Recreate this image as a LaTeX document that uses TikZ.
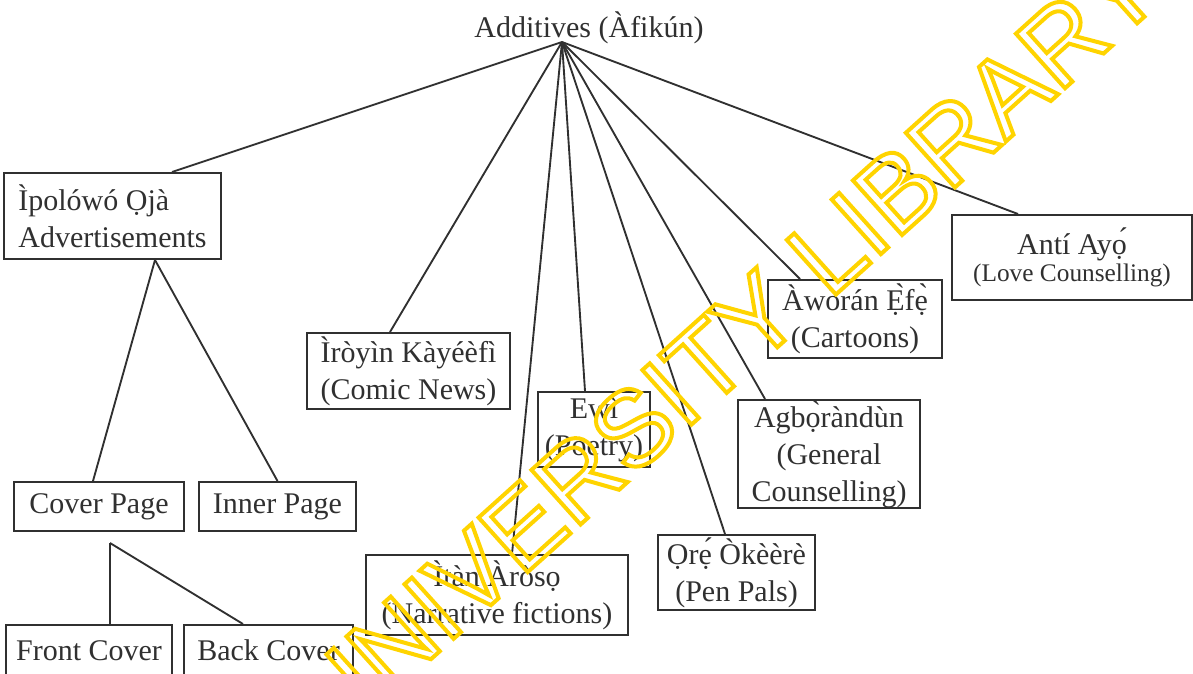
\documentclass[tikz,border=0pt]{standalone}
\usepackage{fontspec}
\setmainfont{Liberation Serif}
\newfontfamily\wmfont{Liberation Sans}
\usetikzlibrary{calc}
\definecolor{inkgray}{RGB}{48,48,48}
\definecolor{wmyellow}{RGB}{255,212,0}

\tikzset{every picture/.style={line width=1.5pt}}
\tikzset{
  catbox/.style={draw=inkgray, text=inkgray, line width=1.5pt, inner sep=0pt, align=center, font=\fontsize{22.5}{27.75}\selectfont},
  branch/.style={draw=inkgray, line width=1.4pt},
}

\begin{document}
\begin{tikzpicture}[x=0.75pt,y=0.75pt,yscale=-1,xscale=1]
	\useasboundingbox (0,0) rectangle (1193,674);
	
	% Text Node
	\node [text=inkgray, font=\fontsize{22.5}{27.75}\selectfont] (root) at (589,28) {Additives (Àfikún)};
	\coordinate (hub) at (562,42);
	
	%Shape: Rectangle
	\node [catbox, align=left, minimum width=162.75pt, minimum height=64.5pt] (ipolowo) at (112.5,216) {Ìpolówó Ọjà\\Advertisements};
	\node [catbox, minimum width=127.5pt, minimum height=36.75pt] (cover) at (99,506.5) {Cover Page};
	\node [catbox, minimum width=117.75pt, minimum height=36.75pt] (inner) at (277.5,506.5) {Inner Page};
	\coordinate (split) at (110,543);
	\node [catbox, minimum width=124.5pt, minimum height=38.25pt] (front) at (89,650.5) {Front Cover};
	\node [catbox, minimum width=126.75pt, minimum height=38.25pt] (back) at (268.5,650.5) {Back Cover};
	
	%Shape: Rectangle
	\node [catbox, minimum width=152.25pt, minimum height=57pt] (iroyin) at (408.5,371) {Ìròyìn Kàyéèfì\\(Comic News)};
	\node [catbox, minimum width=196.5pt, minimum height=60pt] (itan) at (497,595) {Ìtàn Àròsọ\\(Narrative fictions)};
	\node [catbox, minimum width=84pt, minimum height=56.25pt] (ewi) at (594,429.5) {Ewì\\(Poetry)};
	\node [catbox, minimum width=117.75pt, minimum height=56.25pt] (ore) at (736.5,572.5) {Ọrẹ́ Òkèèrè\\(Pen Pals)};
	\node [catbox, minimum width=136.5pt, minimum height=81pt] (agbo) at (829,454) {Agbọ̀ràndùn\\(General\\Counselling)};
	\node [catbox, minimum width=130.5pt, minimum height=58.5pt] (aworan) at (855,319) {Àwòrán Ẹ̀fẹ̀\\(Cartoons)};
	\node [catbox, minimum width=180pt, minimum height=63.75pt] (anti) at (1072,257.5) {Antí Ayọ́\\[-8pt]{\fontsize{19}{22}\selectfont (Love Counselling)}};
	
	%Straight Lines
	\draw [branch] (hub) -- ($(ipolowo.north)+(59.5,0)$);
	\draw [branch] (hub) -- ($(iroyin.north)+(-18.5,0)$);
	\draw [branch] (hub) -- ($(itan.north)+(15,0)$);
	\draw [branch] (hub) -- ($(ewi.north)+(-9,0)$);
	\draw [branch] (hub) -- ($(ore.north)+(-11.5,0)$);
	\draw [branch] (hub) -- ($(agbo.north)+(-64,0)$);
	\draw [branch] (hub) -- ($(aworan.north)+(-55,0)$);
	\draw [branch] (hub) -- ($(anti.north)+(-54,0)$);
	
	%Straight Lines
	\draw [branch] ($(ipolowo.south)+(42.5,0)$) -- ($(cover.north)+(-6,0)$);
	\draw [branch] ($(ipolowo.south)+(42.5,0)$) -- (inner.north);
	\draw [branch] (split) -- ($(front.north)+(21,0)$);
	\draw [branch] (split) -- ($(back.north)+(-25.5,0)$);
	
	% Text Node
	\node [rotate=42, text=wmyellow, font=\wmfont\fontsize{80}{80}\selectfont] (stamp) at (725,345) {\special{pdf:literal direct 1 Tr 3 w}UNIVERSITY LIBRARY\special{pdf:literal direct 0 Tr}};
	
\end{tikzpicture}
\end{document}
